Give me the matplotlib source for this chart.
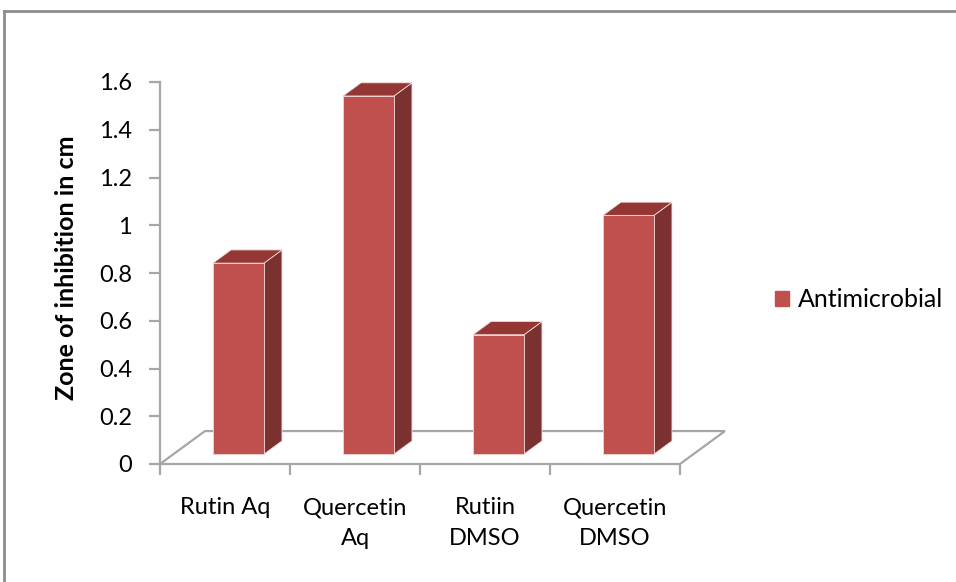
import matplotlib
matplotlib.use("Agg")
import matplotlib.pyplot as plt
from matplotlib.patches import Polygon, Patch
from matplotlib.lines import Line2D

categories = ["Rutin Aq", "Quercetin\nAq", "Rutiin\nDMSO", "Quercetin\nDMSO"]
values = [0.8, 1.5, 0.5, 1.0]
series_name = "Antimicrobial"
yticks = [0, 0.2, 0.4, 0.6, 0.8, 1.0, 1.2, 1.4, 1.6]
ytick_labels = ["0", "0.2", "0.4", "0.6", "0.8", "1", "1.2", "1.4", "1.6"]

FONT = ["Lato", "DejaVu Sans"]
plt.rcParams['font.family'] = FONT

W, H = 956, 582
fig = plt.figure(figsize=(W / 100, H / 100), dpi=100)
fig.patch.set_facecolor("white")

# outer chart frame (partially visible)
fig.add_artist(Line2D([4 / W, 1.0], [1 - 11 / H, 1 - 11 / H], transform=fig.transFigure,
                      color="#8c8c8c", lw=2))
fig.add_artist(Line2D([4 / W, 4 / W], [1 - 11 / H, 0], transform=fig.transFigure,
                      color="#8c8c8c", lw=2))

ax = fig.add_axes([160 / W, 1 - 464 / H, 520 / W, 382 / H])
ax.set_xlim(0, len(categories))
ax.set_ylim(0, 1.6)
ax.patch.set_alpha(0)

# depth offsets in data units
DX, DY = 0.346, 0.138
d0, d1 = 0.3, 0.7
half = 0.196
grid_c = "#a6a6a6"

n = len(categories)
# floor
floor = Polygon([(0, 0), (n, 0), (n + DX, DY), (DX, DY)], closed=True,
                facecolor="white", edgecolor=grid_c, lw=1.6, clip_on=False, zorder=1)
ax.add_patch(floor)

front_c = "#c0504d"
top_c = "#943634"
side_c = "#7b3130"
edge_c = "#f0d8d7"

for i, v in enumerate(values):
    cx = i + 0.5
    x0 = cx - half + d0 * DX
    x1 = cx + half + d0 * DX
    y0 = d0 * DY
    ox = (d1 - d0) * DX
    oy = (d1 - d0) * DY
    side = Polygon([(x1, y0), (x1 + ox, y0 + oy), (x1 + ox, y0 + oy + v), (x1, y0 + v)],
                   closed=True, facecolor=side_c, edgecolor=edge_c, lw=0.6, clip_on=False, zorder=3)
    top = Polygon([(x0, y0 + v), (x1, y0 + v), (x1 + ox, y0 + oy + v), (x0 + ox, y0 + oy + v)],
                  closed=True, facecolor=top_c, edgecolor=edge_c, lw=0.6, clip_on=False, zorder=3)
    front = Polygon([(x0, y0), (x1, y0), (x1, y0 + v), (x0, y0 + v)],
                    closed=True, facecolor=front_c, edgecolor=edge_c, lw=0.6, clip_on=False, zorder=4)
    for p in (side, top, front):
        ax.add_patch(p)

# spines
for s in ("top", "right"):
    ax.spines[s].set_visible(False)
ax.spines["bottom"].set_visible(False)
ax.spines["left"].set_color(grid_c)
ax.spines["left"].set_linewidth(1.6)

ax.set_yticks(yticks)
ax.set_yticklabels(ytick_labels)
ax.tick_params(axis="y", length=8, width=1.6, color=grid_c, pad=12,
               labelsize=17, labelcolor="#000000")

ax.set_xticks(range(n + 1))
ax.set_xticklabels([""] * (n + 1))
ax.set_xticks([i + 0.5 for i in range(n)], minor=True)
ax.set_xticklabels(categories, minor=True, linespacing=1.55)
ax.tick_params(axis="x", which="major", length=8, width=1.6, color=grid_c, direction="out")
ax.tick_params(axis="x", which="minor", length=0, pad=24, labelsize=17, labelcolor="#000000")

fig.text(67 / W, 1 - 268 / H, "Zone of inhibition in cm", rotation=90, ha="center", va="center",
         fontsize=18, fontweight="bold", color="#000000")

leg = fig.legend(handles=[Patch(facecolor=front_c, edgecolor=front_c)], labels=[series_name],
                 loc="center left", bbox_to_anchor=(775 / W, 1 - 300 / H), frameon=False,
                 fontsize=18, handlelength=0.55, handleheight=0.55, handletextpad=0.35,
                 borderaxespad=0, borderpad=0)

fig.savefig("out.png", dpi=100)
